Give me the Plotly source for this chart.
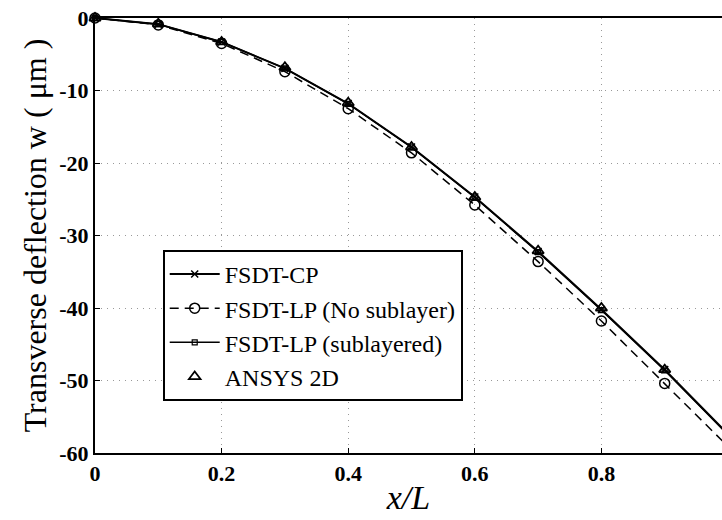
import plotly.graph_objects as go

x_vals = [0, 0.1, 0.2, 0.3, 0.4, 0.5, 0.6, 0.7, 0.8, 0.9, 1.0]
fsdt_cp = [0, -0.85, -3.3, -6.95, -11.8, -17.8, -24.7, -32.2, -40.2, -48.5, -57.4]
fsdt_lp_nosub = [0, -0.95, -3.5, -7.4, -12.5, -18.6, -25.8, -33.6, -41.8, -50.4, -59.1]
fsdt_lp_sub = [0, -0.85, -3.3, -6.95, -11.85, -17.85, -24.75, -32.3, -40.3, -48.6, -57.5]
x_ansys = [0, 0.1, 0.2, 0.3, 0.4, 0.5, 0.6, 0.7, 0.8, 0.9]
ansys = [0, -0.8, -3.3, -6.8, -11.7, -17.8, -24.7, -32.1, -40.0, -48.5]

x_ticks = [0, 0.2, 0.4, 0.6, 0.8]
y_ticks = [0, -10, -20, -30, -40, -50, -60]

FONT = "Liberation Serif"

fig = go.Figure()
fig.add_trace(go.Scatter(
    x=x_vals, y=fsdt_cp, name="FSDT-CP", mode="lines+markers",
    line=dict(color="black", width=2),
    marker=dict(symbol="x-thin-open", size=7, color="black", line=dict(width=1.5, color="black")),
    cliponaxis=False))
fig.add_trace(go.Scatter(
    x=x_vals, y=fsdt_lp_nosub, name="FSDT-LP (No sublayer)", mode="lines+markers",
    line=dict(color="black", width=1.5, dash="9px,6px"),
    marker=dict(symbol="circle-open", size=10, color="black", line=dict(width=1.5, color="black")),
    cliponaxis=False))
fig.add_trace(go.Scatter(
    x=x_vals, y=fsdt_lp_sub, name="FSDT-LP (sublayered)", mode="lines+markers",
    line=dict(color="black", width=1.5),
    marker=dict(symbol="square-open", size=5, color="black", line=dict(width=1.2, color="black")),
    cliponaxis=False))
fig.add_trace(go.Scatter(
    x=x_ansys, y=ansys, name="ANSYS 2D", mode="markers",
    marker=dict(symbol="triangle-up-open", size=10, color="black", line=dict(width=1.8, color="black")),
    cliponaxis=False))

fig.update_layout(
    width=722, height=520,
    margin=dict(l=95, r=0, t=18, b=67),
    paper_bgcolor="white", plot_bgcolor="white",
    font=dict(family=FONT, color="black", size=20),
    showlegend=True,
    legend=dict(
        x=0.108, y=0.467, xanchor="left", yanchor="top",
        bordercolor="black", borderwidth=2, bgcolor="white",
        font=dict(family=FONT, size=24, color="black"),
        itemwidth=50, tracegroupgap=0,
    ),
    xaxis=dict(
        range=[0, 0.9905], tickvals=x_ticks, ticktext=[f"<b>{v:g}</b>" for v in x_ticks],
        showgrid=True, gridcolor="#999999", griddash="1px,5px", gridwidth=1,
        zeroline=False, showline=True, linecolor="black", linewidth=2, mirror=True,
        ticks="inside", ticklen=5, tickcolor="black", automargin=False,
        tickfont=dict(family=FONT, size=22, color="black"),
        title=dict(text="<i>x/L</i>", font=dict(family=FONT, size=34, color="black"), standoff=0),
    ),
    yaxis=dict(
        range=[-60, 0], tickvals=y_ticks, ticktext=[f"<b>{v:g}</b>" for v in y_ticks],
        showgrid=True, gridcolor="#999999", griddash="1px,5px", gridwidth=1,
        zeroline=False, showline=True, linecolor="black", linewidth=2, mirror=False,
        ticks="inside", ticklen=5, tickcolor="black", automargin=False,
        tickfont=dict(family=FONT, size=22, color="black"),
        title=dict(text="Transverse deflection w ( μm )", font=dict(family=FONT, size=32, color="black"), standoff=3),
    ),
)

fig.write_html("out.html", config={"displayModeBar": False},
               post_script="document.body.style.margin='0';")
